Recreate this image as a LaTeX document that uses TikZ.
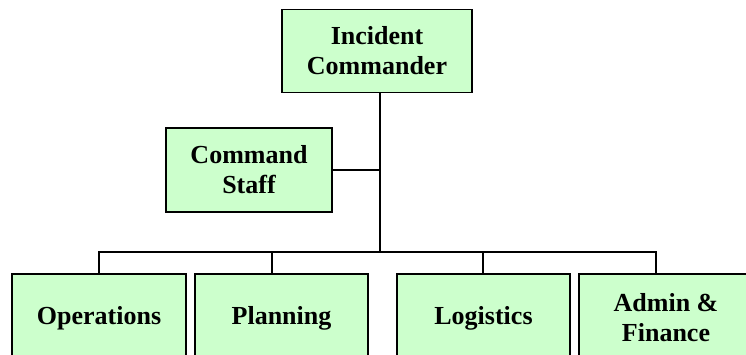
\documentclass[tikz,border=0pt]{standalone}
\usepackage{fontspec}
\setmainfont{Liberation Serif}
\definecolor{boxgreen}{HTML}{CCFFCC}
\begin{document}
\begin{tikzpicture}[x=1pt,y=-1pt,
  orgbox/.style={draw=black,fill=boxgreen,line width=1.6pt,rectangle,
    inner sep=0pt,align=center,
    font=\fontsize{26}{30}\selectfont\bfseries},
  conn/.style={draw=black,line width=1.3pt}]
\useasboundingbox (0,0) rectangle (746,354);

% chart boxes
\node[orgbox,minimum width=190pt,minimum height=83pt] (ic) at (377,51) {Incident\\Commander};
\node[orgbox,minimum width=166pt,minimum height=84pt] (cs) at (249,170) {Command\\Staff};
\node[orgbox,minimum width=174pt,minimum height=88pt] (ops) at (99,318) {Operations};
\node[orgbox,minimum width=173pt,minimum height=88pt] (pln) at (281.5,318) {Planning};
\node[orgbox,minimum width=173pt,minimum height=88pt] (log) at (483.5,318) {Logistics};
\node[orgbox,minimum width=174pt,minimum height=88pt] (adm) at (666,318) {Admin \&\\Finance};

% reporting lines
\coordinate (trunk) at (380,252);
\coordinate (tapP) at (272,252);
\coordinate (tapL) at (483,252);
\coordinate (tapA) at (656,252);
\draw[conn] (ic.south -| trunk) -- (trunk);
\draw[conn] (cs.east) -- (cs.east -| trunk);
\draw[conn] (ops.north) -- (ops.north |- tapA) -- (tapA) -- (tapA |- adm.north);
\draw[conn] (tapP) -- (tapP |- pln.north);
\draw[conn] (tapL) -- (tapL |- log.north);
\end{tikzpicture}
\end{document}
